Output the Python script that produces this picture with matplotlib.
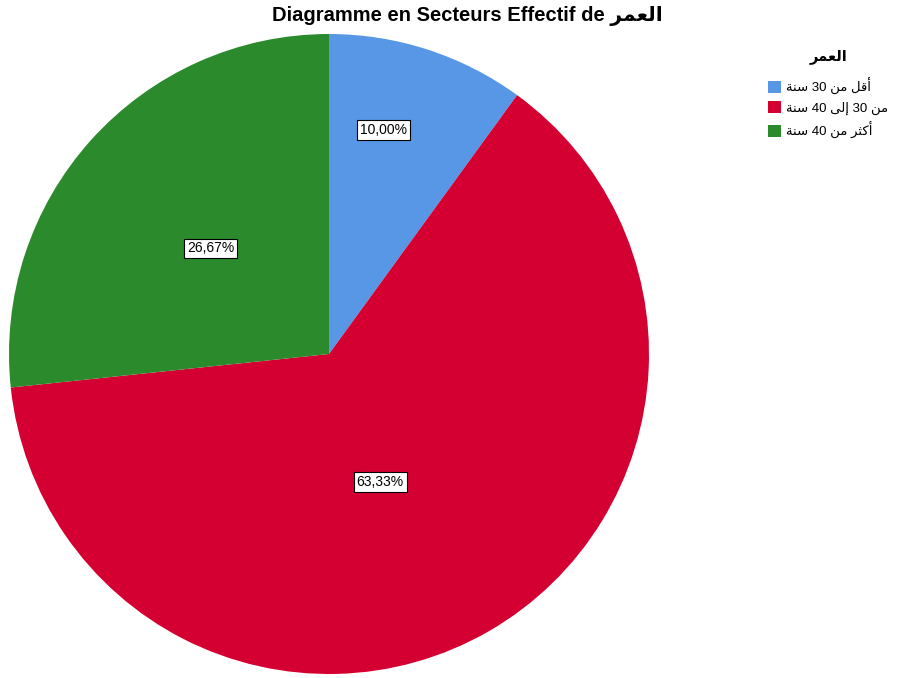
import matplotlib
matplotlib.use('Agg')
import matplotlib.pyplot as plt

# Arabic written with presentation forms in visual order (matplotlib has no shaping)
age = '\uFEAE\uFEE4\uFECC\uFEDF\uFE8D'          # العمر
sana = '\uFE94\uFEE8\uFEB3'                       # سنة
min_ = '\uFEE6\uFEE3'                             # من
categories = [
    sana + ' 30 ' + min_ + ' \uFEDE\uFED7\uFE83',                 # أقل من 30 سنة
    sana + ' 40 \uFEF0\uFEDF\uFE87 30 ' + min_,                   # من 30 إلى 40 سنة
    sana + ' 40 ' + min_ + ' \uFEAE\uFE9C\uFEDB\uFE83',           # أكثر من 40 سنة
]
percents = [10.00, 63.33, 26.67]
colors = ['#5897e6', '#d50032', '#2b8a2b']
label_xy = [(0.17, 0.70), (0.16, -0.40), (-0.37, 0.33)]

fonts = ['Liberation Sans', 'DejaVu Sans']
plt.rcParams['font.family'] = fonts

fig = plt.figure(figsize=(9.05, 6.78), dpi=100)
W, H = 905, 678
ax = fig.add_axes([9 / W, 4 / H, 640 / W, 640 / H])

wedges, _ = ax.pie(percents, colors=colors, startangle=90, counterclock=False,
                   wedgeprops=dict(linewidth=0))
ax.set_xlim(-1, 1)
ax.set_ylim(-1, 1)
ax.set_aspect('equal')

for p, (x, y) in zip(percents, label_xy):
    ax.text(x, y, ('%.2f%%' % p).replace('.', ','), ha='center', va='center',
            fontsize=10, family=fonts,
            bbox=dict(boxstyle='square,pad=0.2', facecolor='white',
                      edgecolor='black', linewidth=0.8))

fig.text(467 / W, 1 - 16 / H, 'Diagramme en Secteurs Effectif de ' + age,
         ha='center', va='center', fontsize=14.5, fontweight='bold', family=fonts)

leg = fig.legend(wedges, categories, title=age, loc='upper left',
                 bbox_to_anchor=(756 / W, 1 - 37 / H), frameon=False,
                 fontsize=9.5, title_fontproperties={'weight': 'bold', 'size': 10.5},
                 handlelength=1.0, handleheight=1.0, handletextpad=0.4,
                 labelspacing=0.5)
leg._legend_box.align = 'center'
leg._legend_box.sep = 10

fig.savefig('out.png', dpi=100)
